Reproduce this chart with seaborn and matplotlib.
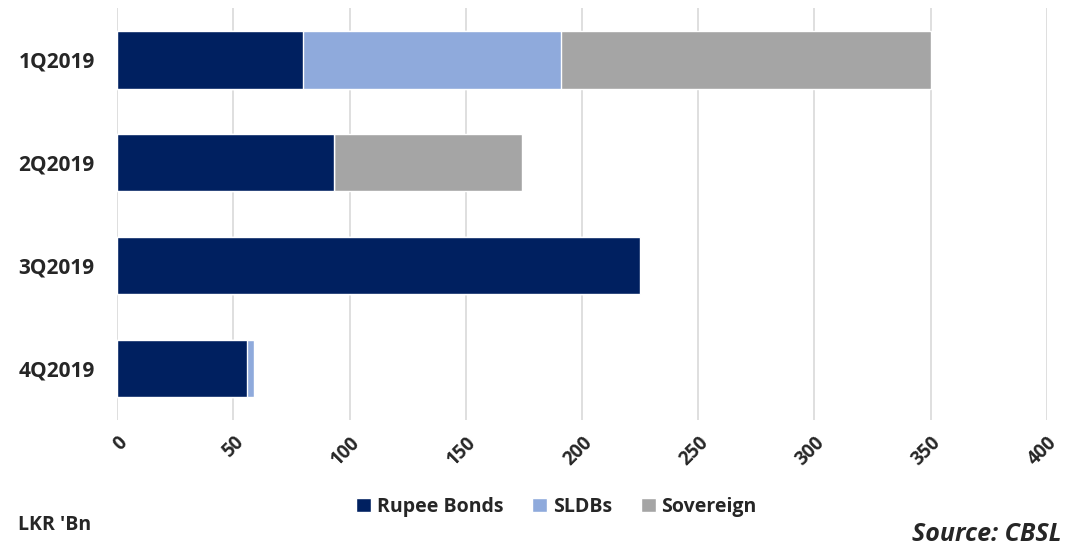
import numpy as np
import pandas as pd
import matplotlib
matplotlib.use('Agg')
import matplotlib.pyplot as plt
import seaborn as sns
from matplotlib.patches import Patch

# data (LKR Bn)
quarters = ['1Q2019', '2Q2019', '3Q2019', '4Q2019']
rupee_bonds = [80, 93.5, 225, 56]
sldbs = [111, 0, 0, 3]
sovereign = [159, 80.5, 0, 0]

series = ['Rupee Bonds', 'SLDBs', 'Sovereign']
colors = ['#002060', '#8FAADC', '#A5A5A5']

sns.set_theme(style='white')
plt.rcParams['font.family'] = ['Open Sans', 'DejaVu Sans']

df = pd.DataFrame({'Quarter': quarters, 'Rupee Bonds': rupee_bonds,
                   'SLDBs': sldbs, 'Sovereign': sovereign})
# cumulative sums for stacking
cum = df[series].cumsum(axis=1)

fig = plt.figure(figsize=(10.66, 5.47), dpi=100)
ax = fig.add_axes([0.1098, 0.232, 0.8723, 0.753])

# draw from the outermost stack inward
for name, col in reversed(list(zip(series, colors))):
    sns.barplot(x=cum[name], y=df['Quarter'], orient='h', color=col,
                width=0.56, ax=ax, zorder=3, saturation=1)

ax.set_xlim(0, 400)
ax.set_xticks(np.arange(0, 401, 50))
ax.set_ylim(3.5, -0.5)
ax.grid(axis='x', color='#D9D9D9', linewidth=1.2, zorder=0)
ax.grid(axis='y', visible=False)
for s in ax.spines.values():
    s.set_visible(False)
ax.set_xlabel('')
ax.set_ylabel('')
ax.tick_params(axis='both', length=0)
ax.tick_params(axis='y', pad=16)
for lab in ax.get_yticklabels():
    lab.set_fontsize(15)
    lab.set_fontweight('bold')
for lab in ax.get_xticklabels():
    lab.set_fontsize(13.5)
    lab.set_fontweight('bold')
    lab.set_rotation(45)
    lab.set_ha('right')
    lab.set_rotation_mode('anchor')
ax.tick_params(axis='x', pad=9)

handles = [Patch(facecolor=c, label=n) for n, c in zip(series, colors)]
fig.legend(handles=handles, loc='center', bbox_to_anchor=(0.522, 0.073), ncol=3,
           frameon=False, prop={'weight': 'bold', 'size': 14},
           handlelength=0.75, handleheight=0.75, handletextpad=0.3, columnspacing=1.5)

fig.text(0.017, 0.04, "LKR 'Bn", fontsize=14, fontweight='bold', va='center')
fig.text(0.996, 0.022, 'Source: CBSL', fontsize=18, fontweight='bold',
         style='italic', ha='right', va='center')

fig.savefig('out.png', dpi=100)
